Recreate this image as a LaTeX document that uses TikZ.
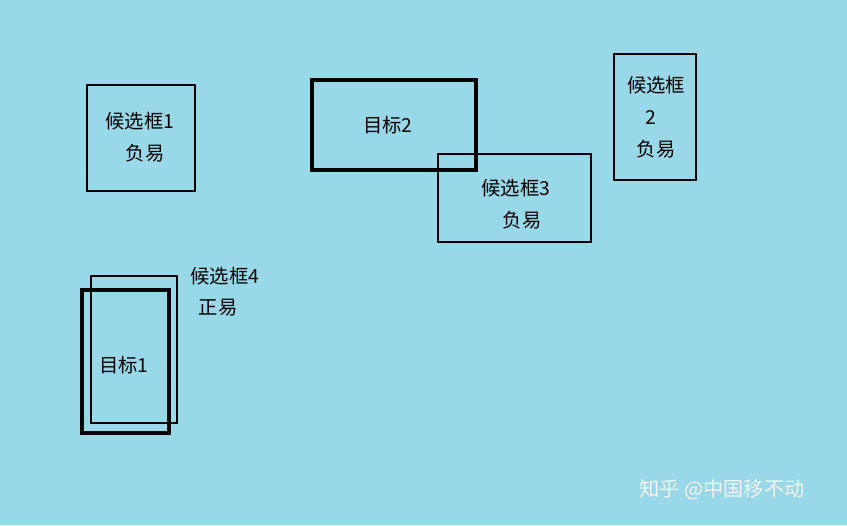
\documentclass[tikz,border=0pt]{standalone}
\usepackage{fontspec}
\setmainfont{Noto Sans CJK SC}
\definecolor{bg}{RGB}{152,216,232}
\begin{document}
\begin{tikzpicture}[x=0.02cm,y=-0.02cm,
 thinbox/.style={draw=black,line width=1.5pt},
 thickbox/.style={draw=black,line width=2.8pt},
 lbl/.style={font=\fontsize{11}{13}\selectfont,inner sep=0pt,align=center}]
\fill[bg] (0,0) rectangle (847,525);
\useasboundingbox (0,0) rectangle (847,525);
\draw[thinbox] (87,85) rectangle (195,191);
\node[lbl] (c1a) at (140,121) {候选框1};
\node[lbl] (c1b) at (145,153) {负易};
\draw[thickbox] (312,80) rectangle (476,170);
\node[lbl] (t2) at (388,125) {目标2};
\draw[thinbox] (438,154) rectangle (591,242);
\node[lbl] (c3a) at (516,188) {候选框3};
\node[lbl] (c3b) at (522,220) {负易};
\draw[thinbox] (614,54) rectangle (696,180);
\node[lbl] (c2a) at (656,85) {候选框};
\node[lbl] (c2b) at (651,117) {2};
\node[lbl] (c2c) at (656,149) {负易};
\draw[thinbox] (91,276) rectangle (177,423);
\node[lbl] (c4a) at (225,276) {候选框4};
\node[lbl] (c4b) at (218,308) {正易};
\draw[thickbox] (82,290) rectangle (169,433);
\node[lbl] (t1) at (124,365) {目标1};
\node[font=\fontsize{11.5}{13}\selectfont,text=white!92!gray,inner sep=0pt] (wm) at (722,490) {知乎 @中国移不动};
\end{tikzpicture}
\end{document}
